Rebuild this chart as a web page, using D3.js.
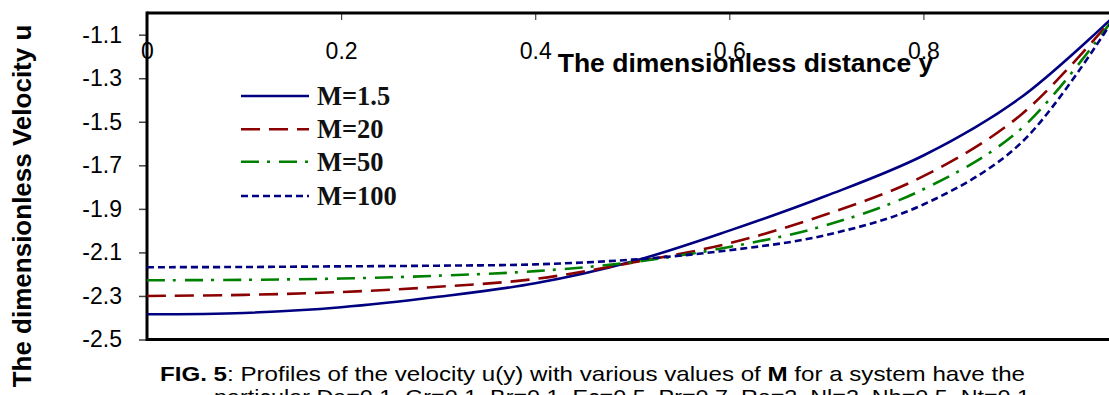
<!DOCTYPE html>
<html>
<head>
<meta charset="utf-8">
<script src="https://cdn.jsdelivr.net/npm/d3@7"></script>
<style>
  html, body { margin: 0; padding: 0; background: #fff; }
  svg { display: block; }
</style>
</head>
<body>
<svg id="chart" width="1109" height="395"></svg>
<script>
// Dimensionless distance y (grid of computed points)
const yDist = [0, 0.1, 0.2, 0.3, 0.4, 0.5, 0.6, 0.7, 0.8, 0.9, 1.0];

// Velocity profiles u(y) for each value of M
const uM1_5 = [-2.384, -2.378, -2.352, -2.304, -2.242, -2.142, -2.000, -1.840, -1.655, -1.390, -1.0];
const uM20  = [-2.300, -2.295, -2.282, -2.258, -2.222, -2.147, -2.058, -1.925, -1.750, -1.470, -1.0];
const uM50  = [-2.228, -2.226, -2.220, -2.207, -2.186, -2.145, -2.075, -1.975, -1.810, -1.535, -1.0];
const uM100 = [-2.168, -2.167, -2.164, -2.161, -2.155, -2.133, -2.090, -2.020, -1.880, -1.600, -1.0];

const seriesNames = ["M=1.5", "M=20", "M=50", "M=100"];
const seriesValues = [uM1_5, uM20, uM50, uM100];

const xTickValues = [0, 0.2, 0.4, 0.6, 0.8, 1];
const xTickLabels = ["0", "0.2", "0.4", "0.6", "0.8", "1"];
const uTickValues = [-2.5, -2.3, -2.1, -1.9, -1.7, -1.5, -1.3, -1.1];
const uTickLabels = ["-2.5", "-2.3", "-2.1", "-1.9", "-1.7", "-1.5", "-1.3", "-1.1"];

const xTitle = "The dimensionless distance y";
const yTitle = "The dimensionless Velocity u";

// line styles per series
const styles = [
  { color: "#000080", dash: null },
  { color: "#8b0000", dash: "19,9" },
  { color: "#008000", dash: "18,8,3,9" },
  { color: "#000080", dash: "7,4" }
];

const svg = d3.select("#chart");

const x = d3.scaleLinear().domain([0, 1]).range([147, 1117.5]);
const u = d3.scaleLinear().domain([-2.5, -1.0]).range([339.5, 12.9]);

// clip region for the curves
svg.append("defs").append("clipPath").attr("id", "plotClip")
  .append("rect")
  .attr("x", x(0)).attr("y", u(-1.0))
  .attr("width", x(1) - x(0)).attr("height", u(-2.5) - u(-1.0));

// left value axis
const yAxis = svg.append("g")
  .attr("transform", `translate(${x(0)},0)`)
  .call(d3.axisLeft(u).tickValues(uTickValues).tickSize(8).tickPadding(17)
    .tickFormat((d, i) => uTickLabels[i]));
yAxis.select(".domain").remove();
yAxis.selectAll(".tick line").attr("stroke", "#444").attr("stroke-width", 1.5);
yAxis.selectAll(".tick text")
  .attr("font-family", "Liberation Sans, Arial, sans-serif")
  .attr("font-size", 23).attr("fill", "#000");

// distance axis drawn along the top edge (crosses at u = -1.0)
const xAxis = svg.append("g")
  .attr("transform", `translate(0,${u(-1.0)})`)
  .call(d3.axisBottom(x).tickValues(xTickValues).tickSize(7).tickPadding(23)
    .tickFormat((d, i) => xTickLabels[i]));
xAxis.select(".domain").remove();
xAxis.selectAll(".tick line").attr("stroke", "#444").attr("stroke-width", 1.2);
xAxis.selectAll(".tick text")
  .attr("font-family", "Liberation Sans, Arial, sans-serif")
  .attr("font-size", 23).attr("fill", "#000");

// frame lines
const frame = svg.append("g").attr("stroke", "#000").attr("stroke-width", 3).attr("fill", "none");
frame.append("line").attr("x1", x(0)).attr("x2", x(1)).attr("y1", u(-1.0)).attr("y2", u(-1.0));
frame.append("line").attr("x1", x(0)).attr("x2", x(1)).attr("y1", u(-2.5)).attr("y2", u(-2.5));
frame.append("line").attr("x1", x(0)).attr("x2", x(0)).attr("y1", u(-1.0) - 1.5).attr("y2", u(-2.5) + 1.5);

// velocity curves (smoothed through the computed points)
const line = d3.line()
  .x((d, i) => x(yDist[i]))
  .y(d => u(d))
  .curve(d3.curveCatmullRom.alpha(0.5));

const curves = svg.append("g").attr("clip-path", "url(#plotClip)");
seriesValues.forEach((vals, k) => {
  curves.append("path")
    .datum(vals)
    .attr("d", line)
    .attr("fill", "none")
    .attr("stroke", styles[k].color)
    .attr("stroke-width", 2.6)
    .attr("stroke-dasharray", styles[k].dash);
});

// axis titles
svg.append("text")
  .attr("x", 745.5).attr("y", 72)
  .attr("text-anchor", "middle")
  .attr("font-family", "Liberation Sans, Arial, sans-serif")
  .attr("font-weight", "bold").attr("font-size", 26.5)
  .text(xTitle);

svg.append("text")
  .attr("transform", "translate(31,206) rotate(-90)")
  .attr("text-anchor", "middle")
  .attr("font-family", "Liberation Sans, Arial, sans-serif")
  .attr("font-weight", "bold").attr("font-size", 26)
  .text(yTitle);

// legend
const legendRows = [96, 129.3, 161.7, 196];
const legend = svg.append("g");
seriesNames.forEach((name, k) => {
  legend.append("line")
    .attr("x1", 241).attr("x2", 309)
    .attr("y1", legendRows[k]).attr("y2", legendRows[k])
    .attr("stroke", styles[k].color)
    .attr("stroke-width", 2.6)
    .attr("stroke-dasharray", styles[k].dash);
  legend.append("text")
    .attr("x", 317).attr("y", legendRows[k] + 9)
    .attr("font-family", "Liberation Serif, Times New Roman, serif")
    .attr("font-weight", "bold").attr("font-size", 26.5)
    .attr("fill", "#111")
    .text(name);
});

// figure caption
const cap1 = svg.append("text")
  .attr("x", 160).attr("y", 381)
  .attr("font-family", "Liberation Sans, Arial, sans-serif")
  .attr("font-size", 21)
  .attr("textLength", 865).attr("lengthAdjust", "spacingAndGlyphs");
cap1.append("tspan").attr("font-weight", "bold").text("FIG. 5");
cap1.append("tspan").text(":  Profiles of the velocity u(y) with various values of ");
cap1.append("tspan").attr("font-weight", "bold").text("M");
cap1.append("tspan").text(" for a system have the");

svg.append("text")
  .attr("x", 214).attr("y", 404)
  .attr("font-family", "Liberation Sans, Arial, sans-serif")
  .attr("font-size", 21)
  .attr("textLength", 816).attr("lengthAdjust", "spacingAndGlyphs")
  .text("particular  Da=0.1, Gr=0.1, Br=0.1, Ec=0.5, Pr=0.7, Re=2, Nl=2, Nb=0.5, Nt=0.1");
</script>
</body>
</html>
